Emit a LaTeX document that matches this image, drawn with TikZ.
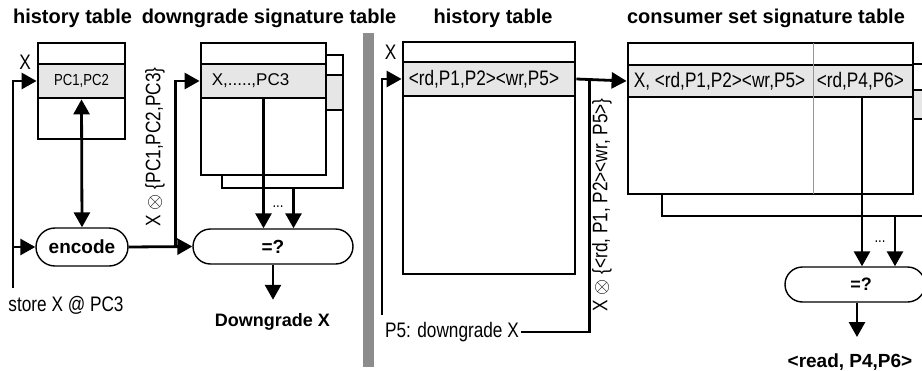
\documentclass[tikz,border=0pt]{standalone}
\usepackage{fontspec}
\setmainfont{Liberation Sans}
\newfontfamily\narrowfont{Liberation Sans}[FakeStretch=0.82]
\usetikzlibrary{arrows.meta,positioning,calc}
\definecolor{rowgray}{RGB}{230,230,230}
\definecolor{bargray}{RGB}{140,140,140}
\definecolor{splitgray}{RGB}{150,150,150}
\tikzset{
  sig table/.style={draw, line width=2.8pt, fill=white, inner sep=0pt},
  sig row/.style={draw, line width=2.8pt, fill=rowgray, inner sep=0pt},
  cell text/.style={font=\narrowfont\fontsize{21}{24}\selectfont, inner sep=0pt, anchor=west},
  cmp box/.style={draw, line width=1.4pt, fill=white, inner sep=0pt, font=\bfseries\fontsize{19}{22}\selectfont},
  plain label/.style={font=\narrowfont\fontsize{21}{24}\selectfont, inner sep=2pt},
  title label/.style={font=\bfseries\fontsize{20}{24}\selectfont, anchor=base, inner sep=0pt},
  result label/.style={font=\bfseries\fontsize{18}{22}\selectfont, anchor=base, inner sep=2pt},
  flow/.style={line width=2.8pt, -{Triangle[length=15pt,width=16pt]}},
  flow both/.style={line width=2.8pt, {Triangle[length=15pt,width=16pt]}-{Triangle[length=15pt,width=16pt]}},
  wire/.style={line width=2.8pt},
}
\begin{document}
\begin{tikzpicture}[x=1pt, y=-1pt]
  \useasboundingbox (0,0) rectangle (922,370);
  \clip (0,0) rectangle (922,370);
  % titles
  \node[title label] (tHistA) at (72.5,23) {history table};
  \node[title label] (tSig) at (269,23) {downgrade signature table};
  \node[title label] (tHistB) at (493,23) {history table};
  \node[title label] (tCons) at (766,23) {consumer set signature table};

  % left: history table + downgrade signature table
  \node[sig table, minimum width=87pt, minimum height=96pt] (hA) at (81.5,91) {};
  \node[sig row, minimum width=87pt, minimum height=34pt, font=\narrowfont\fontsize{16}{19}\selectfont] (hArow) at (81.5,81) {PC1,PC2};
  \node[plain label] (xA) at (25,62) {X};
  \node[sig table, minimum width=121pt, minimum height=133pt] (sigB) at (282.5,121.5) {};
  \node[sig row, minimum width=121pt, minimum height=35pt] (sigBrow) at (282.5,92.5) {};
  \node[sig table, minimum width=125pt, minimum height=132pt] (sigA) at (263.5,109) {};
  \node[sig row, minimum width=125pt, minimum height=34pt] (sigArow) at (263.5,81) {};
  \node[cell text, font=\fontsize{17}{20}\selectfont] (sigAtxt) at ($(sigArow.west)+(12,0)$) {X,.....,PC3};
  \node[cmp box, minimum width=92pt, minimum height=38pt, rounded corners=19pt] (enc) at (82,247) {encode};
  \node[cmp box, minimum width=160pt, minimum height=35pt, rounded corners=17.5pt] (eqA) at (273,246.5) {=?};
  \node[plain label, anchor=base, font=\narrowfont\fontsize{16}{19}\selectfont] (dotsA) at (278,207) {...};
  \node[plain label, rotate=90] (keyA) at (155,147) {X $\otimes$ \{PC1,PC2,PC3\}};
  \node[plain label] (store) at (66,305) {store X @ PC3};
  \node[result label] (dgX) at (272.5,326) {Downgrade X};
  \coordinate (storein) at (13,288);
  \coordinate (splitA) at ($(enc.east)+(47,0)$);
  \coordinate (dA2) at ($(sigB.south)+(11,0)$);
  \draw[flow] (storein) |- (hArow.west);
  \draw[flow] (storein) |- (enc.west);
  \draw[flow both] (hArow.south) -- (enc.north);
  \draw[flow] (enc.east) -- (eqA.west);
  \draw[flow] (splitA) |- (sigArow.west);
  \draw[flow] (sigArow.south) -- (sigArow.south |- eqA.north);
  \draw[flow] (dA2) -- (dA2 |- eqA.north);
  \draw[flow, shorten >=11pt] (eqA.south) -- (eqA.south |- dgX.north);

  % divider
  \fill[bargray] (363,33) rectangle (374,367);

  % right: history table + consumer set signature table
  \node[sig table, minimum width=172pt, minimum height=232pt] (hB) at (489,158) {};
  \node[sig row, minimum width=172pt, minimum height=34pt] (hBrow) at (489,79) {};
  \node[cell text] (hBtxt) at ($(hBrow.west)+(7,0)$) {<rd,P1,P2><wr,P5>};
  \node[plain label] (xB) at (390.5,52.5) {X};
  \node[plain label] (p5) at (452,332) {P5: downgrade X};
  \node[plain label, rotate=90] (keyB) at (602,205) {X $\otimes$ \{<rd, P1, P2><wr, P5>\}};
  \node[sig table, minimum width=283pt, minimum height=152pt] (csB) at (803.5,140) {};
  \node[sig row, minimum width=283pt, minimum height=29pt] (csBrow) at (803.5,104.5) {};
  \node[sig table, minimum width=285pt, minimum height=151pt] (csA) at (770.5,118.5) {};
  \node[sig row, minimum width=285pt, minimum height=32pt] (csArow) at (770.5,81) {};
  \draw[splitgray, line width=1.3pt] ($(csA.north)+(43,1.4)$) -- ($(csA.south)+(43,-1.4)$);
  \node[cell text] (csAtxt) at ($(csArow.west)+(7,0)$) {X, <rd,P1,P2><wr,P5>};
  \node[cell text] (csAtxt2) at ($(csArow.west)+(190,0)$) {<rd,P4,P6>};
  \node[cmp box, minimum width=140pt, minimum height=35pt, rounded corners=17.5pt, font=\bfseries\fontsize{18}{22}\selectfont] (eqB) at (855,284.5) {\hspace*{12pt}=?};
  \node[plain label, anchor=base, font=\narrowfont\fontsize{16}{19}\selectfont] (dotsB) at (880,242) {...};
  \node[result label, font=\bfseries\fontsize{19}{22}\selectfont] (rdP) at (850,367) {<read, P4,P6>};
  \coordinate (p5in) at (382,315);
  \coordinate (joinB) at ($(hBrow.east)+(13,0)$);
  \coordinate (dB1) at ($(csArow.south)+(91.5,0)$);
  \coordinate (dB2) at ($(csB.south)+(91.5,0)$);
  \draw[flow] (p5in) |- (hBrow.west);
  \draw[flow] (hBrow.east) -- (csArow.west);
  \draw[wire] (p5.east) -| (joinB);
  \draw[flow] (dB1) -- (dB1 |- eqB.north);
  \draw[flow] (dB2) -- (dB2 |- eqB.north);
  \draw[flow, shorten >=14pt] ([xshift=2pt]eqB.south) -- ([xshift=2pt]eqB.south |- rdP.north);
\end{tikzpicture}
\end{document}
